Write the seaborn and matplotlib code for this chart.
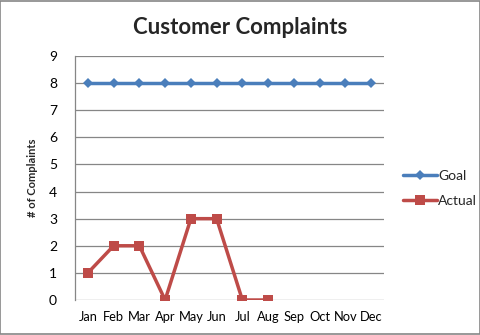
import matplotlib
matplotlib.use("Agg")
import matplotlib.pyplot as plt
import seaborn as sns
import pandas as pd

months = ["Jan", "Feb", "Mar", "Apr", "May", "Jun", "Jul", "Aug", "Sep", "Oct", "Nov", "Dec"]
goal = [8, 8, 8, 8, 8, 8, 8, 8, 8, 8, 8, 8]
actual_months = ["Jan", "Feb", "Mar", "Apr", "May", "Jun", "Jul", "Aug"]
actual = [1, 2, 2, 0, 3, 3, 0, 0]

sns.set_style("white")
plt.rcParams["font.family"] = ["Lato", "DejaVu Sans"]

goal_df = pd.DataFrame({"Month": months, "Complaints": goal})
actual_df = pd.DataFrame({"Month": actual_months, "Complaints": actual})
pos = {m: i for i, m in enumerate(months)}
goal_df["x"] = goal_df["Month"].map(pos)
actual_df["x"] = actual_df["Month"].map(pos)

fig = plt.figure(figsize=(4.81, 3.35), dpi=100)
ax = fig.add_axes([75 / 481, 1 - 300 / 335, (384 - 75) / 481, (300 - 56) / 335])

sns.lineplot(data=goal_df, x="x", y="Complaints", ax=ax, color="#4A7EBB",
             linewidth=2.5, marker="D", markersize=5, markeredgewidth=0,
             label="Goal")
sns.lineplot(data=actual_df, x="x", y="Complaints", ax=ax, color="#BE4B48",
             linewidth=2.5, marker="s", markersize=7, markeredgewidth=0,
             label="Actual")

ax.set_xlim(-0.5, 11.5)
ax.set_ylim(0, 9)
ax.set_xticks(range(12))
ax.set_xticklabels(months)
ax.set_yticks(range(10))
ax.tick_params(axis="both", length=0, colors="#000000")
ax.tick_params(axis="x", pad=8, labelsize=9.3)
ax.tick_params(axis="y", pad=13, labelsize=10)
ax.yaxis.grid(True, color="#868686", linewidth=0.9)
ax.set_axisbelow(True)
for side in ["top", "right", "bottom"]:
    ax.spines[side].set_visible(False)
ax.spines["left"].set_color("#868686")
ax.spines["left"].set_linewidth(0.9)
ax.set_xlabel("")
ax.set_ylabel("# of Complaints", fontsize=8, fontweight="bold", labelpad=8)

fig.text(240 / 481, 1 - 28 / 335, "Customer Complaints", ha="center", va="center",
         fontsize=16, fontweight="bold")

leg = ax.legend(loc="upper left", bbox_to_anchor=(1.045, 0.555), frameon=False,
                fontsize=10, handlelength=2.4, handletextpad=0.1, labelspacing=0.95,
                borderaxespad=0)

fig.patches.append(plt.Rectangle((0.001, 0.002), 0.997, 0.995, transform=fig.transFigure,
                                 fill=False, edgecolor="#868686", linewidth=1.2))

fig.savefig("out.png", dpi=100, facecolor="white")
